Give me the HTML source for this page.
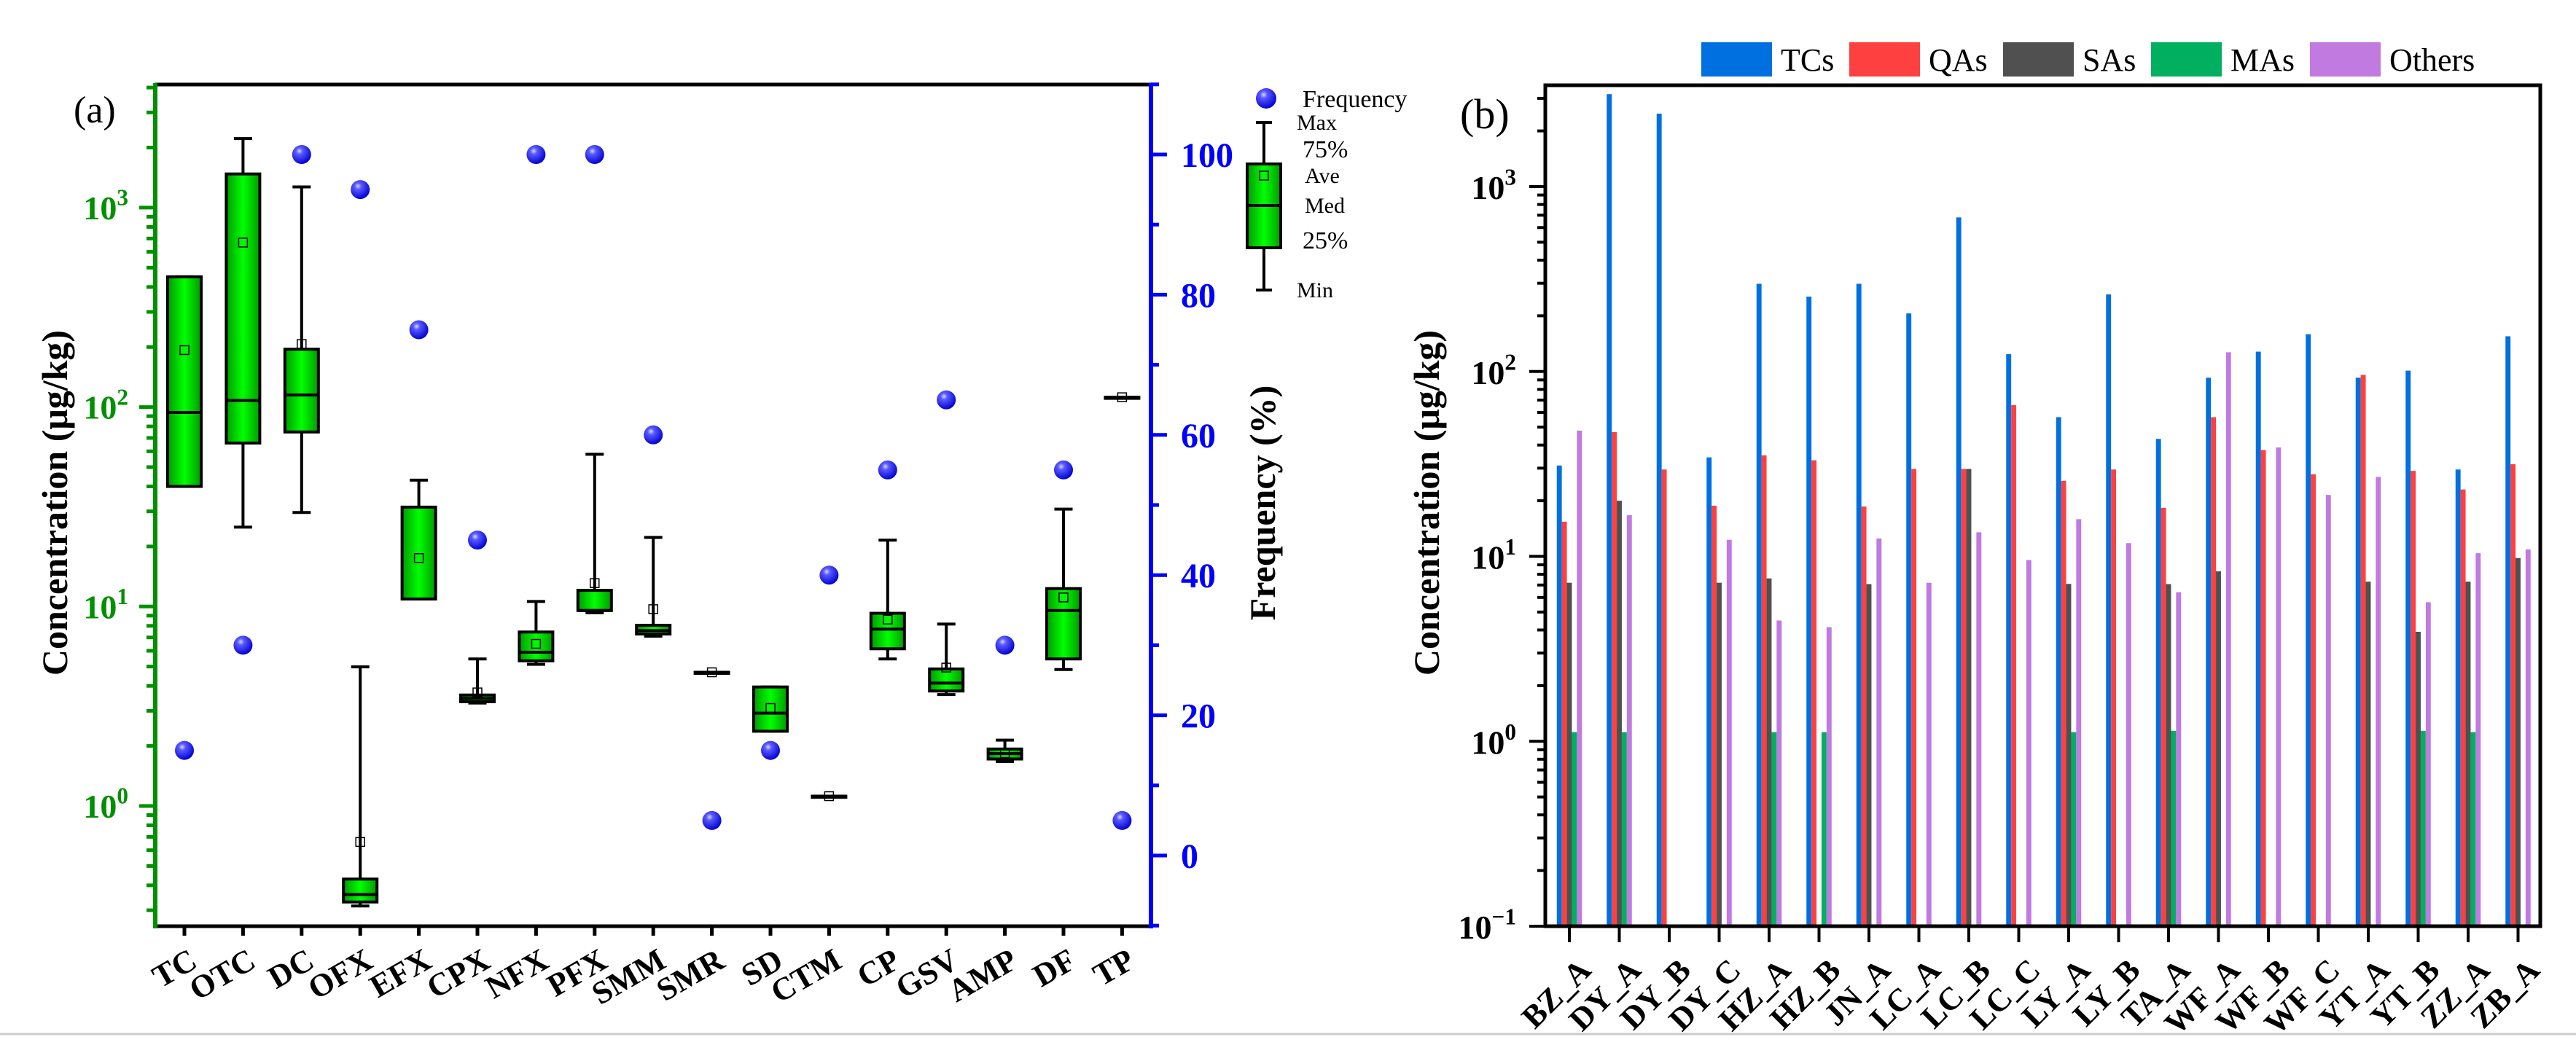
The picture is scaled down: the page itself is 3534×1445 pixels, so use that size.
<!DOCTYPE html>
<html><head><meta charset="utf-8"><style>
html,body{margin:0;padding:0;background:#fff;}
svg{display:block;font-family:"Liberation Serif","DejaVu Serif",serif;}
</style></head><body>
<svg id="chart" width="3534" height="1445" viewBox="0 0 3534 1445" xmlns="http://www.w3.org/2000/svg">
<defs>
<linearGradient id="boxg" x1="0" x2="1" y1="0" y2="0">
<stop offset="0" stop-color="#009a00"/><stop offset="0.5" stop-color="#00ff00"/><stop offset="1" stop-color="#009a00"/>
</linearGradient>
<radialGradient id="dotg" cx="0.38" cy="0.32" r="0.7">
<stop offset="0" stop-color="#d8d8ff"/><stop offset="0.25" stop-color="#5a5aff"/><stop offset="1" stop-color="#0000d0"/>
</radialGradient>
</defs>
<line x1="0" y1="1419" x2="3534" y2="1419" stroke="#cccccc" stroke-width="3"/>
<g id="pa"></g>
<g id="pb"></g>
</svg>
<script>
// ---------- Panel (a) data ----------
const drugs = ["TC","OTC","DC","OFX","EFX","CPX","NFX","PFX","SMM","SMR","SD","CTM","CP","GSV","AMP","DF","TP"];
const boxMin = [40,25,29.6,0.315,10.9,3.28,5.13,9.3,7.1,4.68,2.37,1.12,5.46,3.62,1.67,4.83,112];
const boxQ1  = [40,66,75,0.33,10.9,3.33,5.34,9.55,7.28,4.68,2.37,1.12,6.14,3.77,1.72,5.46,112];
const boxMed = [94,108,115,0.36,10.9,3.46,5.9,9.55,7.57,4.68,2.92,1.12,7.7,4.13,1.83,9.55,112];
const boxQ3  = [450,1475,195,0.43,31.5,3.6,7.45,12.05,8.05,4.68,3.95,1.12,9.25,4.86,1.93,12.3,112];
const boxMax = [450,2220,1270,4.98,43,5.46,10.6,58,22.2,4.68,3.95,1.12,21.5,8.17,2.14,30.8,112];
const boxMean= [193,668,207,0.66,17.5,3.71,6.5,13.1,9.7,4.68,3.1,1.12,8.6,4.94,1.84,11.1,112];
const freq   = [15,30,100,95,75,45,100,100,60,5,15,40,55,65,30,55,5];
const freqTicks = [0,20,40,60,80,100];

// ---------- Panel (b) data ----------
const sites = ["BZ_A","DY_A","DY_B","DY_C","HZ_A","HZ_B","JN_A","LC_A","LC_B","LC_C","LY_A","LY_B","TA_A","WF_A","WF_B","WF_C","YT_A","YT_B","ZZ_A","ZB_A"];
const seriesNames = ["TCs","QAs","SAs","MAs","Others"];
const tcs    = [31,3160,2480,34.3,298,254,298,206,681,124,56.6,261,43.2,92.5,128,159,92.5,101,29.5,155];
const qas    = [15.4,47,29.5,18.8,35.2,33.1,18.6,29.7,29.7,65.8,25.6,29.5,18.3,56.6,37.6,27.8,95.8,29,23,31.5];
const sas    = [7.2,20,0,7.2,7.6,0,7.08,0,29.7,0,7.1,0,7.08,8.3,0,0,7.3,3.91,7.3,9.8];
const mas    = [1.12,1.12,0,0,1.12,1.12,0,0,0,0,1.12,0,1.14,0,0,0,0,1.14,1.12,0];
const others = [47.9,16.7,0,12.3,4.5,4.14,12.5,7.2,13.5,9.55,15.9,11.8,6.4,127,38.8,21.5,26.9,5.65,10.4,10.9];

const NS="http://www.w3.org/2000/svg";
function mk(parent, tag, attrs, text){
  const e=document.createElementNS(NS,tag);
  for(const k in attrs) e.setAttribute(k,attrs[k]);
  if(text!==undefined) e.textContent=text;
  parent.appendChild(e); return e;
}
function supLabel(parent, x, y, base, exp, color, size){
  const t=mk(parent,"text",{x:x,y:y,"text-anchor":"end","font-size":size,"font-weight":"bold",fill:color});
  const a=document.createElementNS(NS,"tspan"); a.textContent=base; t.appendChild(a);
  const b=document.createElementNS(NS,"tspan"); b.setAttribute("dy",-size*0.42); b.setAttribute("font-size",size*0.68); b.textContent=exp; t.appendChild(b);
  return t;
}

// ---------- Panel (a) ----------
(function(){
  const g=document.getElementById("pa");
  const L=213,R=1579,T=116,B=1271;
  const decade=273.7, y0=1106;
  const yC=v=>y0-Math.log10(v)*decade;
  const yF=f=>1174-f*9.62;
  const x0=253, dx=80.4;
  const xC=i=>x0+i*dx;
  // frame
  let e=mk(g,"line",{x1:L,y1:T,x2:R,y2:T,stroke:"#000","stroke-width":5});
   
  e=mk(g,"line",{x1:L,y1:B,x2:R,y2:B,stroke:"#000","stroke-width":5});
   
  e=mk(g,"line",{x1:L,y1:T-2,x2:L,y2:B+3,stroke:"#009000","stroke-width":6});
   
  e=mk(g,"line",{x1:R,y1:T-2,x2:R,y2:B+3,stroke:"#0000ff","stroke-width":6});
   
  // left log ticks
  for(let d=-1; d<=3; d++){
    for(let m=1;m<=9;m++){
      const v=m*Math.pow(10,d), y=yC(v);
      if(y<T-1||y>B+1) continue;
      e=mk(g,"line",{x1:m===1?L-22:L-12,y1:y,x2:L,y2:y,stroke:"#009000","stroke-width":5});
       
      if(m===1){
        e=supLabel(g,176,y+16,"10",String(d),"#009000",46);
         
      }
    }
  }
  // right ticks
  for(let f=-10; f<=110; f+=10){
    const y=yF(f);
    if(y<T-1||y>B+1) continue;
    const major=(f%20===0);
    e=mk(g,"line",{x1:R,y1:y,x2:R+(major?22:11),y2:y,stroke:"#0000ff","stroke-width":5});
     
  }
  freqTicks.forEach(f=>{
    const t=mk(g,"text",{x:1620,y:yF(f)+17,"font-size":48,"font-weight":"bold",fill:"#0000ff"},String(f));
     
  });
  // titles
  e=mk(g,"text",{x:0,y:0,transform:"translate(92,690) rotate(-90)","text-anchor":"middle","font-size":50,"font-weight":"bold",fill:"#000"},"Concentration (μg/kg)");
   
  e=mk(g,"text",{x:0,y:0,transform:"translate(1749,690) rotate(-90)","text-anchor":"middle","font-size":50,"font-weight":"bold",fill:"#000"},"Frequency (%)");
   
  e=mk(g,"text",{x:101,y:168,"font-size":52,fill:"#000"},"(a)");
   
  // boxes
  drugs.forEach((d,i)=>{
    const x=xC(i), w=46, cw=25;
    e=mk(g,"line",{x1:x,y1:B,x2:x,y2:B+13,stroke:"#000","stroke-width":5});
     
    e=mk(g,"text",{x:0,y:0,transform:`translate(${x+20},1326) rotate(-30)`,"text-anchor":"end","font-size":44,"font-weight":"bold",fill:"#000"},d);
     
    const bg=mk(g,"g",{});
     
    const yMax=yC(boxMax[i]), yMin=yC(boxMin[i]), yQ1=yC(boxQ1[i]), yQ3=yC(boxQ3[i]);
    if(yQ3-yMax>1){
      mk(bg,"line",{x1:x,y1:yMax,x2:x,y2:yQ3,stroke:"#000","stroke-width":4});
    }
    mk(bg,"line",{x1:x-cw/2,y1:yMax,x2:x+cw/2,y2:yMax,stroke:"#000","stroke-width":4});
    if(yMin-yQ1>1){
      mk(bg,"line",{x1:x,y1:yQ1,x2:x,y2:yMin,stroke:"#000","stroke-width":4});
    }
    mk(bg,"line",{x1:x-cw/2,y1:yMin,x2:x+cw/2,y2:yMin,stroke:"#000","stroke-width":4});
    mk(bg,"rect",{x:x-w/2,y:yQ3,width:w,height:Math.max(yQ1-yQ3,1.5),fill:"url(#boxg)",stroke:"#000","stroke-width":4});
    mk(bg,"line",{x1:x-w/2,y1:yC(boxMed[i]),x2:x+w/2,y2:yC(boxMed[i]),stroke:"#000","stroke-width":4});
    mk(bg,"rect",{x:x-6,y:yC(boxMean[i])-6,width:12,height:12,fill:"none",stroke:"#000","stroke-width":1.5});
    const c=mk(g,"circle",{cx:x,cy:yF(freq[i]),r:13,fill:"url(#dotg)"});
     
  });
  // legend
  const lg=mk(g,"g",{});
   
  mk(lg,"circle",{cx:1737,cy:135,r:14,fill:"url(#dotg)"});
  mk(lg,"text",{x:1787,y:147,"font-size":34,fill:"#000"},"Frequency");
  mk(lg,"line",{x1:1734,y1:168,x2:1734,y2:398,stroke:"#000","stroke-width":4});
  mk(lg,"line",{x1:1723,y1:168,x2:1745,y2:168,stroke:"#000","stroke-width":4});
  mk(lg,"line",{x1:1723,y1:398,x2:1745,y2:398,stroke:"#000","stroke-width":4});
  mk(lg,"rect",{x:1711,y:225,width:46,height:115,fill:"url(#boxg)",stroke:"#000","stroke-width":4});
  mk(lg,"line",{x1:1711,y1:282,x2:1757,y2:282,stroke:"#000","stroke-width":4});
  mk(lg,"rect",{x:1728,y:235,width:12,height:12,fill:"none",stroke:"#000","stroke-width":1.5});
  [["Max",1779,178,30],["75%",1787,216,34],["Ave",1790,251,30],["Med",1790,292,30],["25%",1787,341,34],["Min",1779,408,30]].forEach(a=>{
    mk(lg,"text",{x:a[1],y:a[2],"font-size":a[3],fill:"#000"},a[0]);
  });
})();

// ---------- Panel (b) ----------
(function(){
  const g=document.getElementById("pb");
  const L=2120,R=3485,T=117,B=1271;
  const decade=253.75;
  const yC=v=>B-(Math.log10(v)+1)*decade;
  const x0=2153, dx=68.5, bw=6.9;
  const xC=i=>x0+i*dx;
  const colors=["#0070e0","#ff4040","#505050","#00b060","#c07ae0"];
  const series=[tcs,qas,sas,mas,others];
  // bars
  series.forEach((s,k)=>{
    s.forEach((v,i)=>{
      if(!(v>0)) return;
      const y=yC(v);
      const r=mk(g,"rect",{x:xC(i)+(k-2.5)*bw,y:y,width:bw,height:B-y,fill:colors[k]});
      
      
    });
  });
  // frame
  let e=mk(g,"rect",{x:L,y:T,width:R-L,height:B-T,fill:"none",stroke:"#000","stroke-width":5});
   
  for(let d=-1; d<=3; d++){
    for(let m=1;m<=9;m++){
      const v=m*Math.pow(10,d), y=yC(v);
      if(y<T-1||y>B+1) continue;
      e=mk(g,"line",{x1:m===1?L-22:L-11,y1:y,x2:L,y2:y,stroke:"#000","stroke-width":4});
       
      if(m===1){
        e=supLabel(g,2080,y+17,"10",d<0?"\u2212"+Math.abs(d):String(d),"#000",46);
         
      }
    }
  }
  e=mk(g,"text",{x:0,y:0,transform:"translate(1974,690) rotate(-90)","text-anchor":"middle","font-size":50,"font-weight":"bold",fill:"#000"},"Concentration (μg/kg)");
   
  e=mk(g,"text",{x:2003,y:176,"font-size":58,fill:"#000"},"(b)");
   
  sites.forEach((s,i)=>{
    const x=xC(i);
    e=mk(g,"line",{x1:x,y1:B,x2:x,y2:B+22,stroke:"#000","stroke-width":4});
     
    e=mk(g,"text",{x:0,y:0,transform:`translate(${x+32},1334) rotate(-45)`,"text-anchor":"end","font-size":44,"font-weight":"bold",fill:"#000"},s);
     
  });
  // legend
  const lx=[2334,2537,2748,2951,3169];
  seriesNames.forEach((n,k)=>{
    const lg=mk(g,"g",{});
     
    mk(lg,"rect",{x:lx[k],y:58,width:97,height:47,fill:colors[k]});
    mk(lg,"text",{x:lx[k]+109,y:97,"font-size":44,fill:"#000"},n);
  });
})();
</script>
</body></html>
